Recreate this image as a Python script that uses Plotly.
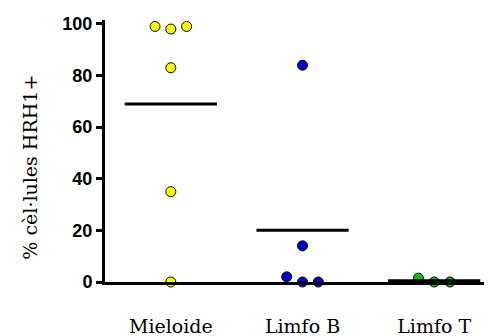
import numpy as np
import plotly.graph_objects as go

categories = ["Mieloide", "Limfo B", "Limfo T"]
mieloide = [99, 98, 99, 83, 35, 0]
limfo_b = [84, 14, 2, 0, 0]
limfo_t = [1.5, 0, 0]
colors = ["#FFFF00", "#0000CC", "#00C800"]
y_ticks = [0, 20, 40, 60, 80, 100]

groups = [mieloide, limfo_b, limfo_t]


def spread(vals, step=0.12, tol=3):
    # simple beeswarm: spread values that are close to each other
    offs = [0.0] * len(vals)
    used = [False] * len(vals)
    for i, v in enumerate(vals):
        if used[i]:
            continue
        idx = [j for j in range(len(vals)) if not used[j] and abs(vals[j] - v) <= tol]
        n = len(idx)
        for k, j in enumerate(idx):
            offs[j] = (k - (n - 1) / 2) * step
            used[j] = True
    return offs


fig = go.Figure()
for i, (vals, col) in enumerate(zip(groups, colors)):
    offs = spread(vals)
    fig.add_trace(go.Scatter(
        x=[i + o for o in offs], y=vals, mode="markers",
        marker=dict(color=col, size=10, line=dict(color="black", width=1)),
        cliponaxis=False, showlegend=False, hoverinfo="y"))
for i, vals in enumerate(groups):
    m = float(np.mean(vals))
    fig.add_trace(go.Scatter(
        x=[i - 0.35, i + 0.35], y=[m, m], mode="lines",
        line=dict(color="black", width=3), cliponaxis=False,
        showlegend=False, hoverinfo="skip"))

fig.update_layout(
    width=492, height=336,
    margin=dict(l=97, r=0, t=12, b=62, autoexpand=False),
    plot_bgcolor="white", paper_bgcolor="white",
    xaxis=dict(range=[-0.5, 2.5], tickvals=[0, 1, 2], ticktext=categories,
               showline=True, linecolor="black", linewidth=3, ticks="",
               showgrid=False, zeroline=False, ticklabelstandoff=25,
               tickfont=dict(family="DejaVu Serif", size=19, color="black")),
    yaxis=dict(range=[0, 101.5], tickvals=y_ticks, showline=True,
               linecolor="black", linewidth=3, ticks="outside", ticklen=6,
               tickwidth=3, tickcolor="black", showgrid=False, zeroline=False,
               ticklabelstandoff=0,
               tickfont=dict(family="Liberation Sans", size=18, color="black",
                             weight="bold")),
    annotations=[dict(text="% cèl·lules HRH1+", textangle=-90, xref="paper",
                      yref="paper", x=-0.19, y=0.44, showarrow=False,
                      xanchor="center", yanchor="middle",
                      font=dict(family="DejaVu Serif", size=19, color="black"))],
)
fig.write_html("out.html")
